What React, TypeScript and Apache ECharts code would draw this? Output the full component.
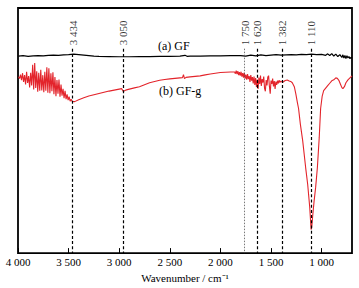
import React, { useEffect, useRef } from "react";
import * as echarts from "echarts";

const FONT = "Liberation Serif";

const tickValues = [1000, 1500, 2000, 2500, 3000, 3500, 4000];

const gfWave = [3995, 3950, 3900, 3850, 3800, 3750, 3700, 3650, 3600, 3550, 3500, 3450, 3400, 3350, 3300, 3250, 3200, 3100, 3000, 2900, 2800, 2700, 2600, 2500, 2400, 2350, 2330, 2300, 2200, 2100, 2000, 1900, 1800, 1750, 1700, 1650, 1600, 1550, 1500, 1450, 1400, 1350, 1300, 1250, 1200, 1150, 1100, 1050, 1000, 960, 940, 920, 900, 880, 860, 840, 820, 800, 790, 780, 770, 760, 750, 740, 730, 720, 710, 700];
const gfValue = [80.4, 80.6, 80.3, 80.5, 80.6, 80.5, 80.7, 80.8, 80.7, 80.9, 81.0, 81.2, 81.0, 80.8, 80.6, 80.4, 80.3, 80.2, 80.1, 80.1, 80.2, 80.2, 80.3, 80.3, 80.4, 80.7, 80.3, 80.4, 80.4, 80.5, 80.5, 80.6, 80.6, 80.4, 80.8, 80.5, 80.9, 80.6, 80.8, 81.0, 80.8, 80.9, 81.0, 80.9, 81.1, 81.0, 81.2, 81.0, 81.1, 80.7, 81.3, 80.6, 81.4, 80.4, 81.2, 80.2, 81.0, 79.8, 80.9, 79.6, 80.6, 79.4, 80.5, 79.6, 80.2, 79.3, 79.9, 79.5];

const gfgWave = [
  3995, 3985, 3975, 3965, 3955, 3945, 3935, 3925, 3915, 3905, 3895, 3885, 3875, 3865, 3855, 3845, 3835, 3825, 3815, 3805,
  3795, 3785, 3775, 3765, 3755, 3745, 3735, 3725, 3715, 3705, 3695, 3685, 3675, 3665, 3655, 3645, 3635, 3625, 3615, 3605,
  3595, 3585, 3575, 3565, 3555, 3545, 3535, 3525, 3515, 3505, 3495, 3485, 3475, 3465,
  3440, 3400, 3350, 3300, 3250, 3200, 3150, 3100, 3050, 3000, 2975, 2960, 2945, 2920, 2900, 2850, 2800, 2750, 2700, 2650,
  2600, 2550, 2500, 2450, 2400, 2375, 2365, 2355, 2340, 2300, 2250, 2200, 2150, 2100, 2050, 2000, 1950, 1900, 1870,
  1860, 1852, 1844, 1836, 1828, 1820, 1812, 1804, 1796, 1788, 1780, 1772, 1764, 1756, 1748, 1740, 1732, 1724, 1716, 1708,
  1700, 1692, 1684, 1676, 1668, 1660, 1652, 1644, 1636, 1628, 1620, 1612, 1604, 1596, 1588, 1580, 1572, 1564, 1556, 1548,
  1540, 1532, 1524, 1516, 1508, 1500, 1492, 1484, 1476, 1468, 1460, 1452, 1444, 1436, 1428, 1420, 1412, 1404, 1396, 1380,
  1360, 1340, 1320, 1300, 1290, 1270, 1255, 1240, 1228, 1210, 1187, 1158, 1138, 1118, 1104, 1098, 1089, 1075, 1059, 1042,
  1024, 1010, 995, 980, 960, 940, 920, 900, 880, 860, 845, 830, 815, 800, 790, 775, 760, 740, 720, 700,
];
const gfgValue = [
  72.0, 71.2, 72.8, 70.6, 73.4, 69.8, 72.6, 68.8, 74.0, 69.4, 72.2, 67.6, 73.6, 68.4, 76.8, 66.8, 77.6, 67.4, 74.2, 65.8,
  73.6, 66.2, 74.8, 66.4, 72.6, 65.6, 74.0, 66.2, 75.8, 65.4, 75.4, 65.2, 73.4, 66.0, 73.8, 64.8, 71.8, 64.0, 70.6, 65.0,
  70.8, 63.8, 68.8, 64.2, 67.0, 63.2, 66.2, 62.8, 64.8, 62.4, 63.8, 62.0, 62.8, 61.9,
  61.8, 62.6, 63.4, 64.1, 64.6, 65.1, 65.6, 66.1, 66.5, 66.9, 67.1, 65.9, 66.3, 66.7, 66.9, 67.4, 67.9, 68.7, 69.5, 70.0,
  70.5, 70.8, 71.1, 71.3, 71.5, 71.6, 72.8, 71.2, 71.7, 71.9, 72.1, 72.3, 72.7, 73.1, 73.4, 73.7, 73.8, 73.9, 73.9,
  73.9, 73.2, 74.4, 73.0, 74.2, 72.6, 73.8, 72.4, 74.0, 72.0, 73.4, 71.6, 73.6, 71.2, 72.8, 70.8, 73.0, 71.0, 72.2, 69.8,
  72.6, 70.4, 71.8, 69.2, 72.0, 68.6, 71.4, 67.8, 70.8, 67.0, 71.6, 69.0, 72.4, 68.2, 71.0, 69.6, 72.0, 67.2, 66.0, 70.6,
  68.4, 71.8, 72.4, 68.0, 65.0, 70.4, 69.0, 71.2, 68.0, 70.2, 67.0, 70.0, 68.6, 70.4, 69.2, 70.6, 69.6, 70.2, 69.9, 69.8,
  70.4, 70.6, 70.2, 69.9, 69.5, 67.9, 65.0, 61.5, 59.0, 52.5, 45.8, 34.9, 28.1, 18.9, 9.6, 10.5, 14.9, 21.0, 26.9, 34.9,
  47.0, 59.0, 63.9, 66.3, 67.3, 68.3, 69.3, 70.3, 70.7, 71.5, 71.3, 70.5, 69.0, 67.5, 67.1, 67.9, 69.5, 70.7, 71.5, 72.3,
];

const peakPos = [3460, 2960, 1760, 1635, 1390, 1102];
const peakLabels = ["3 434", "3 050", "1 750", "1 620", "1 382", "1 110"];
const peakDotted = [false, false, true, false, false, false];

const seriesNames = ["(a) GF", "(b) GF-g"];

const fmt = (v: number) =>
  v >= 1000 ? `${Math.floor(v / 1000)} ${String(v % 1000).padStart(3, "0")}` : String(v);

export default function App() {
  const ref = useRef<HTMLDivElement>(null);
  useEffect(() => {
    document.body.style.margin = "0";
    const chart = echarts.init(ref.current!, null, { renderer: "svg" });
    const labelY = 84.8;
    const lineTop = 83.4;
    chart.setOption({
      animation: false,
      backgroundColor: "#fff",
      textStyle: { fontFamily: FONT },
      grid: {
        left: 18,
        right: 7,
        top: 8,
        bottom: 31,
        show: true,
        borderColor: "#000",
        borderWidth: 1.8,
        backgroundColor: "transparent",
      },
      xAxis: {
        type: "value",
        inverse: true,
        min: 700,
        max: 4000,
        name: "Wavenumber / cm⁻¹",
        nameLocation: "middle",
        nameGap: 16,
        nameTextStyle: { fontFamily: FONT, fontSize: 11, color: "#000" },
        axisLine: { show: false },
        splitLine: { show: false },
        axisTick: {
          show: true,
          inside: true,
          length: 5,
          lineStyle: { color: "#000", width: 1 },
          customValues: tickValues,
        },
        axisLabel: {
          show: true,
          margin: 3,
          fontFamily: FONT,
          fontSize: 11,
          color: "#000",
          customValues: tickValues,
          formatter: (v: number) => fmt(v),
        },
      },
      yAxis: {
        type: "value",
        min: 0,
        max: 100,
        show: false,
      },
      graphic: [
        {
          type: "text",
          left: 158,
          top: 40,
          style: { text: seriesNames[0], fontFamily: FONT, fontSize: 12, fill: "#000" },
        },
        {
          type: "text",
          left: 159,
          top: 85,
          style: { text: seriesNames[1], fontFamily: FONT, fontSize: 12, fill: "#000" },
        },
      ],
      series: [
        {
          type: "line",
          name: seriesNames[0],
          data: gfWave.map((w, i) => [w, gfValue[i]]),
          showSymbol: false,
          symbol: "none",
          lineStyle: { color: "#000", width: 1.2 },
          z: 3,
        },
        {
          type: "line",
          name: seriesNames[1],
          data: gfgWave.map((w, i) => [w, gfgValue[i]]),
          showSymbol: false,
          symbol: "none",
          lineStyle: { color: "#e3242b", width: 1.1 },
          z: 3,
        },
        {
          type: "scatter",
          symbolSize: 0,
          silent: true,
          data: peakPos.map((w) => [w, labelY]),
          label: {
            show: true,
            position: "inside",
            rotate: 90,
            align: "left",
            verticalAlign: "middle",
            fontFamily: FONT,
            fontSize: 11,
            color: "#000",
            formatter: (p: any) => peakLabels[p.dataIndex],
          },
          markLine: {
            silent: true,
            symbol: "none",
            label: { show: false },
            data: peakPos.map((w, i) => [
              {
                coord: [w, lineTop],
                lineStyle: peakDotted[i]
                  ? { color: "#555", width: 0.8, type: [1.5, 1.5] }
                  : { color: "#000", width: 1.2, type: [3, 2.2] },
              },
              { coord: [w, 0] },
            ]),
          },
          z: 4,
        },
      ],
    });
    return () => chart.dispose();
  }, []);
  return <div ref={ref} style={{ width: 359, height: 288 }} />;
}
